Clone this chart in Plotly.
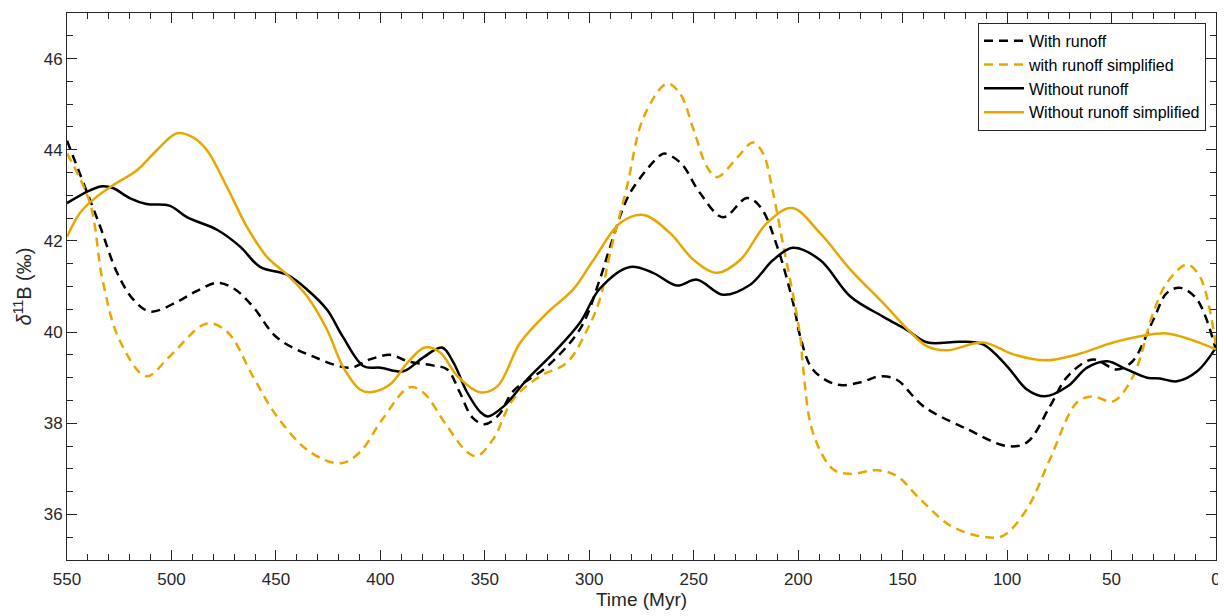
import plotly.graph_objects as go

# With runoff (black dashed)
t_wr = [550, 539, 534, 526, 518, 510, 497, 488, 478, 470, 461, 449.5, 432, 414.5, 405, 395, 387, 375, 368, 362, 356, 350, 343, 336.5, 320, 304, 295, 290, 280.5, 266, 264, 256, 247, 236, 224.5, 218, 210, 202, 199, 193, 181.5, 170, 161, 153, 140, 119, 100, 90.5, 79.5, 71, 59, 47.5, 40, 30, 23.5, 17, 9, 0]
v_wr = [44.2, 42.9, 42.3, 41.3, 40.7, 40.45, 40.67, 40.9, 41.08, 40.95, 40.56, 39.88, 39.46, 39.22, 39.4, 39.5, 39.36, 39.27, 39.18, 38.68, 38.13, 37.98, 38.2, 38.7, 39.25, 40.1, 41.15, 41.87, 43.05, 43.88, 43.92, 43.7, 43.05, 42.52, 42.94, 42.74, 41.87, 40.56, 39.9, 39.18, 38.85, 38.9, 39.03, 38.96, 38.37, 37.87, 37.5, 37.58, 38.37, 39.03, 39.4, 39.18, 39.36, 40.27, 40.86, 40.97, 40.71, 39.6]

# with runoff simplified (orange dashed)
t_wrs = [550, 539, 533, 525, 512, 501, 483, 473, 461, 449.5, 433.7, 419, 409.7, 399, 386, 379.6, 368, 358.5, 353.7, 346, 336.5, 323.6, 310.7, 301, 295, 290, 282, 274, 262.8, 256.5, 250, 243.6, 238.8, 229, 221.6, 216.8, 212, 207, 202, 199, 197.7, 193, 183.3, 175, 162, 152.7, 141.7, 127, 111.5, 102, 90.5, 79.5, 66.5, 59, 49.3, 39.7, 30, 23.5, 14, 7.6, 0]
v_wrs = [43.92, 42.83, 41.15, 39.84, 39.03, 39.46, 40.19, 39.99, 39.03, 38.15, 37.37, 37.12, 37.37, 38.09, 38.79, 38.68, 37.93, 37.37, 37.28, 37.65, 38.52, 39.03, 39.33, 40.05, 40.71, 41.74, 43.18, 44.71, 45.45, 45.23, 44.43, 43.62, 43.4, 43.84, 44.16, 43.92, 43.05, 41.87, 40.71, 39.9, 39.25, 37.8, 36.99, 36.89, 36.97, 36.84, 36.34, 35.75, 35.51, 35.53, 36.12, 37.21, 38.46, 38.59, 38.48, 39.03, 40.43, 41.08, 41.48, 41.21, 39.68]

# Without runoff (black solid)
t_nr = [550, 539, 533, 528, 520, 512, 500.7, 492.6, 478, 467, 457.6, 444.7, 435, 425.5, 418, 408, 400, 389, 379.6, 370.5, 365, 358.5, 352, 348.5, 341, 329.8, 317, 304.4, 295, 280.5, 269.5, 258, 248.4, 236, 223, 212, 202.5, 189.5, 175, 159.4, 148, 138, 122.5, 111.5, 100, 90.5, 82, 71, 61.7, 52, 42.8, 33, 26.8, 18.7, 9, 0]
v_nr = [42.83, 43.11, 43.2, 43.16, 42.94, 42.81, 42.77, 42.52, 42.24, 41.87, 41.43, 41.26, 40.93, 40.49, 39.9, 39.25, 39.22, 39.14, 39.44, 39.66, 39.33, 38.68, 38.24, 38.15, 38.37, 38.96, 39.55, 40.21, 40.95, 41.43, 41.3, 41.02, 41.15, 40.82, 41.04, 41.58, 41.85, 41.58, 40.78, 40.34, 40.05, 39.77, 39.79, 39.73, 39.25, 38.74, 38.59, 38.81, 39.22, 39.36, 39.18, 39.0, 38.98, 38.92, 39.14, 39.66]

# Without runoff simplified (orange solid)
t_nrs = [550, 543.8, 537.6, 528, 516.5, 507, 497.3, 489.7, 483, 473.4, 463.8, 454.3, 444.7, 435, 425.5, 418, 409.7, 405, 395.4, 387, 378.6, 371.4, 363, 352.3, 344, 333, 320, 307.8, 298, 285.3, 274, 261.3, 250, 238.8, 227.8, 215, 203, 189.5, 175, 159.4, 146.5, 138, 128.7, 111.5, 97, 82, 66.5, 49.3, 35, 23.5, 12.4, 0]
v_nrs = [42.09, 42.61, 42.9, 43.22, 43.55, 43.99, 44.36, 44.27, 43.99, 43.18, 42.3, 41.65, 41.26, 40.78, 40.05, 39.25, 38.74, 38.68, 38.85, 39.33, 39.66, 39.55, 39.03, 38.68, 38.81, 39.77, 40.43, 40.93, 41.58, 42.39, 42.57, 42.17, 41.58, 41.3, 41.58, 42.39, 42.72, 42.17, 41.37, 40.64, 40.01, 39.68, 39.6, 39.77, 39.51, 39.38, 39.51, 39.77, 39.92, 39.97, 39.84, 39.62]

ORANGE = "#E6A800"
BLACK = "#000000"
DASH = "9px,6px"
LW = 2.5
FONT = "Liberation Sans, Arial, sans-serif"

fig = go.Figure()
fig.add_trace(go.Scatter(x=t_wr, y=v_wr, mode="lines", name="With runoff",
                         line=dict(color=BLACK, width=LW, dash=DASH, shape="spline", smoothing=1.0)))
fig.add_trace(go.Scatter(x=t_wrs, y=v_wrs, mode="lines", name="with runoff simplified",
                         line=dict(color=ORANGE, width=LW, dash=DASH, shape="spline", smoothing=1.0)))
fig.add_trace(go.Scatter(x=t_nr, y=v_nr, mode="lines", name="Without runoff",
                         line=dict(color=BLACK, width=LW, shape="spline", smoothing=1.0)))
fig.add_trace(go.Scatter(x=t_nrs, y=v_nrs, mode="lines", name="Without runoff simplified",
                         line=dict(color=ORANGE, width=LW, shape="spline", smoothing=1.0)))

axis_common = dict(
    showline=True, linecolor="#262626", linewidth=1, mirror="allticks",
    ticks="inside", ticklen=10, tickwidth=1, tickcolor="#262626",
    showgrid=False, zeroline=False, automargin=False,
    tickfont=dict(family=FONT, size=17, color="#262626"),
)

# page body has an 8px margin, so the figure is 8px smaller and the left/top margins 8px less
fig.update_layout(
    width=1218, height=608,
    margin=dict(l=59, r=10, t=5, b=56, autoexpand=False),
    paper_bgcolor="white", plot_bgcolor="white",
    font=dict(family=FONT, color="#262626"),
    xaxis=dict(range=[550, 0], dtick=50, tick0=0, ticklabelstandoff=4,
               minor=dict(ticks="inside", dtick=10, ticklen=6, tickcolor="#262626"),
               title=dict(text="Time (Myr)", font=dict(size=19), standoff=4),
               **axis_common),
    yaxis=dict(range=[35, 47], dtick=2, tick0=0,
               minor=dict(ticks="inside", dtick=0.5, ticklen=6, tickcolor="#262626"),
               title=dict(text="<i>δ</i><sup>11</sup>B (‰)", font=dict(size=20), standoff=6),
               **axis_common),
    legend=dict(x=0.9913, y=0.982, xanchor="right", yanchor="top",
                bgcolor="white", bordercolor="#262626", borderwidth=1,
                font=dict(family=FONT, size=16, color="#000000"),
                tracegroupgap=0, itemwidth=40),
    showlegend=True,
)

fig.write_html("out.html")
